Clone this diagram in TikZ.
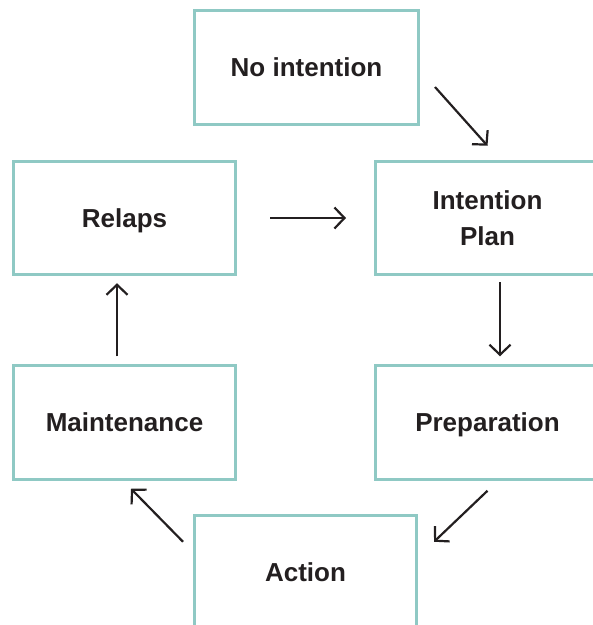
\documentclass[tikz,border=0pt]{standalone}
\usepackage{fontspec}
\setmainfont{Liberation Sans}
\usetikzlibrary{arrows.meta,calc}
\definecolor{boxc}{RGB}{143,201,196}
\definecolor{ink}{RGB}{35,31,32}
\begin{document}
\begin{tikzpicture}[x=1pt,y=-1pt,
  stagebox/.style={draw=boxc, line width=3pt, fill=white, minimum width=222pt,
    minimum height=113.5pt, inner sep=0pt,
    font=\fontsize{26}{36}\selectfont\bfseries, text=ink},
  single/.style={text height=18.6pt, text depth=0pt},
  flow/.style={draw=ink, line width=2.2pt,
    -{Straight Barb[length=10pt,width=21pt,line join=miter]}}]
\useasboundingbox (0,0) rectangle (593,625);
\clip (0,0) rectangle (593,625);

\node[stagebox,single,minimum width=224pt] (noint) at (306.5,67.5) {No intention};
\node[stagebox,align=center,minimum width=224pt] (intent) at (487.5,218) {Intention\\Plan};
\node[stagebox,single] (relaps) at (124.5,218) {Relaps};
\node[stagebox,single] (maint) at (124.5,422.5) {Maintenance};
\node[stagebox,single,minimum width=224pt] (prep) at (487.5,422.5) {Preparation};
\node[stagebox,single] (action) at (305.5,572) {Action};

\draw[flow] ($(noint.east)+(15,19.5)$) -- ($(intent.north)+(0,-14)$);
\draw[flow, shorten <=33pt, shorten >=28pt] (relaps) -- (intent);
\draw[flow] ($(intent.south)+(12.5,6)$) -- ($(prep.north)+(12.5,-8)$);
\draw[flow] ($(prep.south)+(0,10)$) -- ($(action.north east)+(16,28)$);
\draw[flow] ($(action.north west)+(-10,28)$) -- ($(maint.south)+(6.5,8)$);
\draw[flow] ($(maint.north)+(-7.5,-8)$) -- ($(relaps.south)+(-7.5,7)$);
\end{tikzpicture}
\end{document}
